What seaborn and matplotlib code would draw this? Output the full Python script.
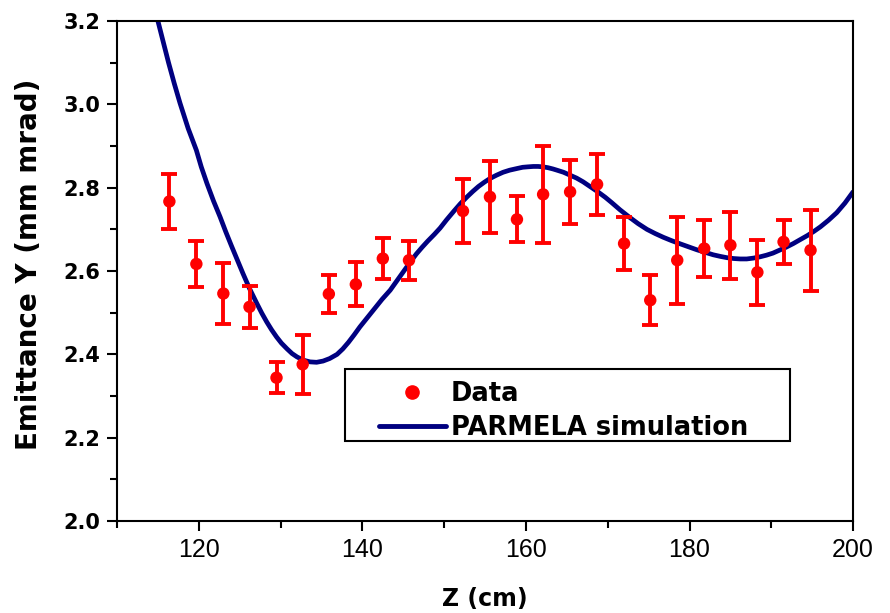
import matplotlib
matplotlib.use("Agg")
import matplotlib.pyplot as plt
import seaborn as sns
import pandas as pd
from matplotlib.ticker import MultipleLocator, FormatStrFormatter
from matplotlib.lines import Line2D
from matplotlib.patches import Rectangle

# Measured data
z_data = [116.4, 119.7, 123.0, 126.2, 129.5, 132.7, 135.9, 139.2, 142.5, 145.7,
          152.3, 155.6, 158.9, 162.1, 165.4, 168.7, 172.0, 175.2, 178.5, 181.8,
          185.0, 188.3, 191.5, 194.8]
emit_data = [2.767, 2.617, 2.546, 2.514, 2.344, 2.376, 2.545, 2.568, 2.630, 2.626,
             2.744, 2.778, 2.724, 2.784, 2.790, 2.808, 2.666, 2.530, 2.626, 2.654,
             2.662, 2.597, 2.670, 2.650]
emit_err = [0.066, 0.055, 0.073, 0.050, 0.037, 0.070, 0.045, 0.053, 0.050, 0.047,
            0.077, 0.087, 0.055, 0.117, 0.077, 0.074, 0.063, 0.060, 0.104, 0.069,
            0.080, 0.078, 0.052, 0.097]

# PARMELA simulation curve
z_sim = [115.0, 115.7, 116.3, 117.0, 117.7, 118.7, 119.7, 120.3, 121.0, 121.8,
         122.6, 123.3, 124.0, 124.7, 125.4, 126.2, 127.1, 127.7, 128.3, 128.9,
         129.5, 130.1, 130.8, 131.4, 132.0, 132.8, 133.6, 134.4, 135.2, 136.0,
         136.9, 137.6, 138.3, 139.0, 139.7, 140.6, 141.5, 142.4, 143.4, 144.2,
         145.0, 145.8, 146.6, 147.3, 148.0, 148.8, 149.5, 150.3, 151.2, 152.0,
         152.8, 153.5, 154.2, 154.9, 155.6, 156.4, 157.2, 158.0, 158.9, 159.6,
         160.2, 160.9, 161.5, 162.1, 162.7, 163.3, 163.8, 164.6, 165.4, 166.2,
         167.0, 167.9, 168.8, 169.7, 170.5, 171.5, 172.6, 173.7, 174.8, 175.8,
         176.8, 177.8, 178.9, 179.9, 180.9, 181.9, 182.9, 183.8, 184.6, 185.4,
         186.2, 187.0, 187.8, 188.6, 189.4, 190.2, 191.0, 191.8, 192.7, 193.5,
         194.4, 195.2, 196.0, 197.0, 198.0, 199.0, 200.0]
emit_sim = [3.200, 3.146, 3.100, 3.050, 3.003, 2.942, 2.890, 2.850, 2.810, 2.768,
            2.730, 2.694, 2.660, 2.627, 2.594, 2.558, 2.522, 2.499, 2.478, 2.459,
            2.442, 2.427, 2.413, 2.402, 2.394, 2.386, 2.382, 2.381, 2.384, 2.390,
            2.400, 2.413, 2.429, 2.447, 2.466, 2.488, 2.510, 2.532, 2.554, 2.576,
            2.598, 2.620, 2.641, 2.657, 2.672, 2.688, 2.703, 2.723, 2.744, 2.762,
            2.778, 2.791, 2.803, 2.813, 2.822, 2.830, 2.837, 2.842, 2.846, 2.849,
            2.850, 2.851, 2.851, 2.850, 2.848, 2.845, 2.842, 2.837, 2.830, 2.823,
            2.814, 2.802, 2.790, 2.777, 2.764, 2.747, 2.730, 2.714, 2.700, 2.690,
            2.681, 2.673, 2.665, 2.658, 2.651, 2.645, 2.639, 2.635, 2.632, 2.630,
            2.629, 2.629, 2.631, 2.634, 2.638, 2.643, 2.650, 2.657, 2.666, 2.675,
            2.685, 2.695, 2.706, 2.722, 2.740, 2.763, 2.790]

sim_df = pd.DataFrame({"z": z_sim, "emit": emit_sim})
dat_df = pd.DataFrame({"z": z_data, "emit": emit_data, "err": emit_err})

sns.set_style("ticks")
plt.rcParams['font.family'] = ['Liberation Sans', 'DejaVu Sans']
plt.rcParams['text.color'] = 'black'
plt.rcParams['axes.labelcolor'] = 'black'
plt.rcParams['xtick.color'] = 'black'
plt.rcParams['ytick.color'] = 'black'

fig = plt.figure(figsize=(8.9, 6.13), dpi=100)
ax = fig.add_axes([0.1315, 0.150, 0.8270, 0.8157])

navy = "#000080"
sns.lineplot(data=sim_df, x="z", y="emit", ax=ax, color=navy, linewidth=3.4,
             zorder=2, legend=False, sort=False)
ax.errorbar(dat_df["z"], dat_df["emit"], yerr=dat_df["err"], fmt="none",
            ecolor="red", elinewidth=2.8, capsize=6, capthick=2.8, zorder=3)
sns.scatterplot(data=dat_df, x="z", y="emit", ax=ax, color="red", s=80,
                edgecolor="none", zorder=4, legend=False)

ax.set_xlim(110, 200)
ax.set_ylim(2.0, 3.2)
ax.xaxis.set_major_locator(MultipleLocator(20))
ax.xaxis.set_minor_locator(MultipleLocator(10))
ax.yaxis.set_major_locator(MultipleLocator(0.2))
ax.yaxis.set_minor_locator(MultipleLocator(0.1))
ax.yaxis.set_major_formatter(FormatStrFormatter("%.1f"))
ax.tick_params(which="both", direction="out", width=1.5, colors="black",
               labelcolor="black")
ax.tick_params(which="major", length=7)
ax.tick_params(which="minor", length=5)
ax.tick_params(axis="x", which="major", labelsize=18, pad=5)
ax.tick_params(axis="y", which="major", labelsize=15, pad=5)
for lbl in ax.get_yticklabels():
    lbl.set_fontweight("bold")
    lbl.set_family("DejaVu Sans")
for sp in ax.spines.values():
    sp.set_visible(True)
    sp.set_linewidth(1.5)
    sp.set_color("black")

ax.set_xlabel("Z (cm)", fontsize=17, fontweight="bold", labelpad=18,
              family="DejaVu Sans", color="black")
ax.set_ylabel("Emittance Y (mm mrad)", fontsize=20, fontweight="bold",
              family="DejaVu Sans", color="black")
ax.yaxis.set_label_coords(-0.100, 0.514)

# Legend box
ax.add_patch(Rectangle((0.310, 0.160), 0.604, 0.144, transform=ax.transAxes,
                       facecolor="white", edgecolor="black", linewidth=1.5,
                       zorder=5))
handles = [Line2D([], [], marker="o", color="red", linestyle="none", markersize=9.5),
           Line2D([], [], color=navy, linewidth=3.5)]
leg = ax.legend(handles, ["Data", "PARMELA simulation"], loc="center left",
                bbox_to_anchor=(0.356, 0.220), frameon=False,
                prop={"weight": "bold", "size": 18.5, "family": "DejaVu Sans"},
                handlelength=2.6, borderpad=0, labelspacing=0.33,
                handletextpad=0.2, borderaxespad=0)
for t in leg.get_texts():
    t.set_color("black")
leg.set_zorder(6)

fig.savefig("out.png", dpi=100)
